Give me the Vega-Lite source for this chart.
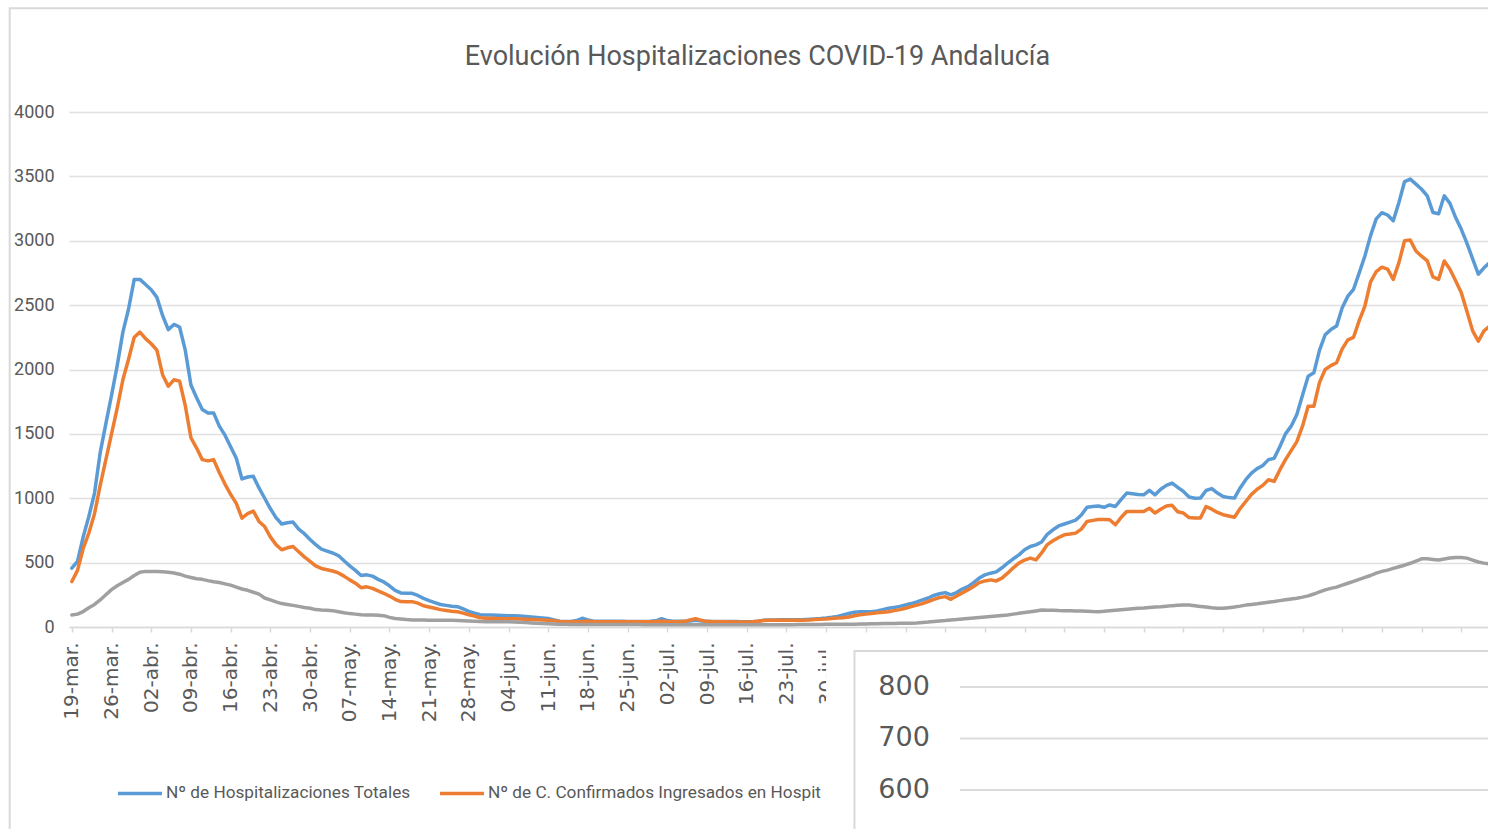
{
  "$schema": "https://vega.github.io/schema/vega-lite/v6.json",
  "autosize": {"type": "none"},
  "width": 1419,
  "height": 515,
  "padding": {"left": 69, "top": 112, "right": 0, "bottom": 202},
  "background": "white",
  "title": {"text": "Evolución Hospitalizaciones COVID-19 Andalucía", "font": "Roboto", "fontSize": 27, "fontWeight": "normal", "color": "#595959", "offset": -64, "dx": -21, "anchor": "middle", "frame": "group"},
  "config": {"view": {"stroke": null}, "style": {"guide-label": {"ellipsis": "\u200b"}}},
  "datasets": {
    "series": [
      {"k": "T", "name": "Nº de Hospitalizaciones Totales"},
      {"k": "C", "name": "Nº de C. Confirmados Ingresados en Hospitalización"},
      {"k": "U", "name": "Nº de C. Confirmados Ingresados en UCI"}
    ],
    "inset": [{"v": 800}, {"v": 700}, {"v": 600}],
    "hosp": [
      {"d":"2020-03-19","T":457,"C":353,"U":93},
      {"d":"2020-03-20","T":510,"C":440,"U":100},
      {"d":"2020-03-21","T":700,"C":610,"U":120},
      {"d":"2020-03-22","T":858,"C":730,"U":150},
      {"d":"2020-03-23","T":1040,"C":880,"U":175},
      {"d":"2020-03-24","T":1354,"C":1100,"U":210},
      {"d":"2020-03-25","T":1580,"C":1300,"U":250},
      {"d":"2020-03-26","T":1800,"C":1500,"U":290},
      {"d":"2020-03-27","T":2030,"C":1700,"U":320},
      {"d":"2020-03-28","T":2290,"C":1920,"U":345},
      {"d":"2020-03-29","T":2470,"C":2080,"U":370},
      {"d":"2020-03-30","T":2700,"C":2250,"U":400},
      {"d":"2020-03-31","T":2700,"C":2290,"U":425},
      {"d":"2020-04-01","T":2660,"C":2240,"U":432},
      {"d":"2020-04-02","T":2620,"C":2200,"U":432},
      {"d":"2020-04-03","T":2560,"C":2150,"U":432},
      {"d":"2020-04-04","T":2420,"C":1960,"U":430},
      {"d":"2020-04-05","T":2310,"C":1870,"U":425},
      {"d":"2020-04-06","T":2350,"C":1920,"U":420},
      {"d":"2020-04-07","T":2330,"C":1910,"U":410},
      {"d":"2020-04-08","T":2150,"C":1720,"U":395},
      {"d":"2020-04-09","T":1880,"C":1470,"U":385},
      {"d":"2020-04-10","T":1780,"C":1390,"U":375},
      {"d":"2020-04-11","T":1690,"C":1300,"U":370},
      {"d":"2020-04-12","T":1663,"C":1290,"U":360},
      {"d":"2020-04-13","T":1663,"C":1300,"U":352},
      {"d":"2020-04-14","T":1560,"C":1200,"U":345},
      {"d":"2020-04-15","T":1490,"C":1110,"U":335},
      {"d":"2020-04-16","T":1400,"C":1030,"U":325},
      {"d":"2020-04-17","T":1310,"C":960,"U":310},
      {"d":"2020-04-18","T":1150,"C":846,"U":295},
      {"d":"2020-04-19","T":1165,"C":880,"U":285},
      {"d":"2020-04-20","T":1170,"C":900,"U":270},
      {"d":"2020-04-21","T":1080,"C":820,"U":255},
      {"d":"2020-04-22","T":1000,"C":780,"U":225},
      {"d":"2020-04-23","T":920,"C":700,"U":210},
      {"d":"2020-04-24","T":850,"C":640,"U":195},
      {"d":"2020-04-25","T":800,"C":600,"U":182},
      {"d":"2020-04-26","T":810,"C":615,"U":175},
      {"d":"2020-04-27","T":815,"C":625,"U":168},
      {"d":"2020-04-28","T":760,"C":585,"U":160},
      {"d":"2020-04-29","T":725,"C":545,"U":152},
      {"d":"2020-04-30","T":680,"C":510,"U":145},
      {"d":"2020-05-01","T":640,"C":475,"U":135},
      {"d":"2020-05-02","T":605,"C":455,"U":132},
      {"d":"2020-05-03","T":590,"C":445,"U":130},
      {"d":"2020-05-04","T":575,"C":435,"U":127},
      {"d":"2020-05-05","T":555,"C":420,"U":118},
      {"d":"2020-05-06","T":515,"C":395,"U":110},
      {"d":"2020-05-07","T":475,"C":366,"U":104},
      {"d":"2020-05-08","T":440,"C":340,"U":100},
      {"d":"2020-05-09","T":400,"C":305,"U":96},
      {"d":"2020-05-10","T":405,"C":312,"U":93},
      {"d":"2020-05-11","T":395,"C":300,"U":93},
      {"d":"2020-05-12","T":370,"C":280,"U":92},
      {"d":"2020-05-13","T":350,"C":262,"U":88},
      {"d":"2020-05-14","T":320,"C":240,"U":75},
      {"d":"2020-05-15","T":285,"C":215,"U":66},
      {"d":"2020-05-16","T":265,"C":198,"U":62},
      {"d":"2020-05-17","T":262,"C":197,"U":58},
      {"d":"2020-05-18","T":262,"C":197,"U":55},
      {"d":"2020-05-19","T":245,"C":185,"U":54},
      {"d":"2020-05-20","T":222,"C":165,"U":54},
      {"d":"2020-05-21","T":205,"C":155,"U":53},
      {"d":"2020-05-22","T":190,"C":145,"U":53},
      {"d":"2020-05-23","T":175,"C":135,"U":52},
      {"d":"2020-05-24","T":168,"C":128,"U":52},
      {"d":"2020-05-25","T":162,"C":122,"U":52},
      {"d":"2020-05-26","T":158,"C":119,"U":50},
      {"d":"2020-05-27","T":140,"C":108,"U":48},
      {"d":"2020-05-28","T":122,"C":95,"U":46},
      {"d":"2020-05-29","T":108,"C":85,"U":44},
      {"d":"2020-05-30","T":95,"C":72,"U":42},
      {"d":"2020-05-31","T":93,"C":68,"U":41},
      {"d":"2020-06-01","T":93,"C":68,"U":40},
      {"d":"2020-06-02","T":92,"C":66,"U":40},
      {"d":"2020-06-03","T":90,"C":65,"U":40},
      {"d":"2020-06-04","T":88,"C":64,"U":40},
      {"d":"2020-06-05","T":88,"C":64,"U":38},
      {"d":"2020-06-06","T":85,"C":62,"U":36},
      {"d":"2020-06-07","T":82,"C":60,"U":34},
      {"d":"2020-06-08","T":78,"C":58,"U":32},
      {"d":"2020-06-09","T":74,"C":56,"U":30},
      {"d":"2020-06-10","T":70,"C":54,"U":28},
      {"d":"2020-06-11","T":66,"C":52,"U":26},
      {"d":"2020-06-12","T":55,"C":48,"U":24},
      {"d":"2020-06-13","T":45,"C":42,"U":22},
      {"d":"2020-06-14","T":42,"C":40,"U":21},
      {"d":"2020-06-15","T":42,"C":40,"U":20},
      {"d":"2020-06-16","T":50,"C":40,"U":20},
      {"d":"2020-06-17","T":68,"C":42,"U":20},
      {"d":"2020-06-18","T":55,"C":45,"U":20},
      {"d":"2020-06-19","T":45,"C":42,"U":20},
      {"d":"2020-06-20","T":44,"C":40,"U":20},
      {"d":"2020-06-21","T":44,"C":40,"U":20},
      {"d":"2020-06-22","T":44,"C":40,"U":20},
      {"d":"2020-06-23","T":44,"C":40,"U":20},
      {"d":"2020-06-24","T":44,"C":40,"U":20},
      {"d":"2020-06-25","T":43,"C":40,"U":20},
      {"d":"2020-06-26","T":43,"C":40,"U":20},
      {"d":"2020-06-27","T":43,"C":40,"U":20},
      {"d":"2020-06-28","T":43,"C":40,"U":18},
      {"d":"2020-06-29","T":44,"C":40,"U":18},
      {"d":"2020-06-30","T":48,"C":42,"U":18},
      {"d":"2020-07-01","T":65,"C":45,"U":18},
      {"d":"2020-07-02","T":50,"C":42,"U":18},
      {"d":"2020-07-03","T":45,"C":40,"U":18},
      {"d":"2020-07-04","T":45,"C":40,"U":18},
      {"d":"2020-07-05","T":45,"C":42,"U":18},
      {"d":"2020-07-06","T":46,"C":55,"U":18},
      {"d":"2020-07-07","T":52,"C":65,"U":18},
      {"d":"2020-07-08","T":46,"C":52,"U":18},
      {"d":"2020-07-09","T":45,"C":42,"U":18},
      {"d":"2020-07-10","T":43,"C":40,"U":18},
      {"d":"2020-07-11","T":42,"C":40,"U":18},
      {"d":"2020-07-12","T":42,"C":40,"U":18},
      {"d":"2020-07-13","T":42,"C":40,"U":18},
      {"d":"2020-07-14","T":42,"C":38,"U":18},
      {"d":"2020-07-15","T":41,"C":38,"U":18},
      {"d":"2020-07-16","T":40,"C":38,"U":18},
      {"d":"2020-07-17","T":40,"C":40,"U":18},
      {"d":"2020-07-18","T":45,"C":45,"U":18},
      {"d":"2020-07-19","T":52,"C":50,"U":18},
      {"d":"2020-07-20","T":55,"C":52,"U":18},
      {"d":"2020-07-21","T":55,"C":52,"U":18},
      {"d":"2020-07-22","T":56,"C":52,"U":18},
      {"d":"2020-07-23","T":56,"C":52,"U":18},
      {"d":"2020-07-24","T":56,"C":52,"U":18},
      {"d":"2020-07-25","T":57,"C":52,"U":19},
      {"d":"2020-07-26","T":58,"C":53,"U":19},
      {"d":"2020-07-27","T":60,"C":55,"U":20},
      {"d":"2020-07-28","T":63,"C":58,"U":20},
      {"d":"2020-07-29","T":66,"C":60,"U":20},
      {"d":"2020-07-30","T":70,"C":62,"U":21},
      {"d":"2020-07-31","T":75,"C":66,"U":21},
      {"d":"2020-08-01","T":82,"C":70,"U":21},
      {"d":"2020-08-02","T":93,"C":72,"U":21},
      {"d":"2020-08-03","T":105,"C":78,"U":22},
      {"d":"2020-08-04","T":115,"C":88,"U":22},
      {"d":"2020-08-05","T":119,"C":95,"U":23},
      {"d":"2020-08-06","T":119,"C":100,"U":24},
      {"d":"2020-08-07","T":119,"C":105,"U":25},
      {"d":"2020-08-08","T":125,"C":110,"U":26},
      {"d":"2020-08-09","T":135,"C":115,"U":27},
      {"d":"2020-08-10","T":145,"C":119,"U":28},
      {"d":"2020-08-11","T":152,"C":127,"U":28},
      {"d":"2020-08-12","T":160,"C":135,"U":29},
      {"d":"2020-08-13","T":171,"C":145,"U":29},
      {"d":"2020-08-14","T":182,"C":158,"U":30},
      {"d":"2020-08-15","T":195,"C":170,"U":32},
      {"d":"2020-08-16","T":210,"C":182,"U":35},
      {"d":"2020-08-17","T":225,"C":198,"U":38},
      {"d":"2020-08-18","T":245,"C":215,"U":42},
      {"d":"2020-08-19","T":258,"C":228,"U":46},
      {"d":"2020-08-20","T":267,"C":236,"U":50},
      {"d":"2020-08-21","T":249,"C":215,"U":55},
      {"d":"2020-08-22","T":268,"C":240,"U":58},
      {"d":"2020-08-23","T":295,"C":265,"U":62},
      {"d":"2020-08-24","T":314,"C":288,"U":66},
      {"d":"2020-08-25","T":345,"C":315,"U":70},
      {"d":"2020-08-26","T":380,"C":345,"U":74},
      {"d":"2020-08-27","T":405,"C":358,"U":78},
      {"d":"2020-08-28","T":418,"C":366,"U":82},
      {"d":"2020-08-29","T":428,"C":358,"U":86},
      {"d":"2020-08-30","T":460,"C":380,"U":90},
      {"d":"2020-08-31","T":496,"C":418,"U":94},
      {"d":"2020-09-01","T":530,"C":460,"U":100},
      {"d":"2020-09-02","T":560,"C":496,"U":106},
      {"d":"2020-09-03","T":600,"C":520,"U":112},
      {"d":"2020-09-04","T":625,"C":535,"U":118},
      {"d":"2020-09-05","T":638,"C":521,"U":125},
      {"d":"2020-09-06","T":660,"C":575,"U":132},
      {"d":"2020-09-07","T":720,"C":640,"U":131},
      {"d":"2020-09-08","T":755,"C":670,"U":130},
      {"d":"2020-09-09","T":785,"C":695,"U":128},
      {"d":"2020-09-10","T":800,"C":716,"U":127},
      {"d":"2020-09-11","T":815,"C":722,"U":126},
      {"d":"2020-09-12","T":830,"C":729,"U":125},
      {"d":"2020-09-13","T":870,"C":760,"U":124},
      {"d":"2020-09-14","T":930,"C":820,"U":122},
      {"d":"2020-09-15","T":936,"C":828,"U":120},
      {"d":"2020-09-16","T":940,"C":835,"U":119},
      {"d":"2020-09-17","T":930,"C":835,"U":122},
      {"d":"2020-09-18","T":948,"C":833,"U":126},
      {"d":"2020-09-19","T":936,"C":794,"U":130},
      {"d":"2020-09-20","T":990,"C":850,"U":134},
      {"d":"2020-09-21","T":1040,"C":897,"U":138},
      {"d":"2020-09-22","T":1035,"C":897,"U":142},
      {"d":"2020-09-23","T":1030,"C":897,"U":145},
      {"d":"2020-09-24","T":1027,"C":897,"U":148},
      {"d":"2020-09-25","T":1061,"C":923,"U":152},
      {"d":"2020-09-26","T":1027,"C":885,"U":155},
      {"d":"2020-09-27","T":1070,"C":915,"U":158},
      {"d":"2020-09-28","T":1100,"C":940,"U":162},
      {"d":"2020-09-29","T":1118,"C":945,"U":166},
      {"d":"2020-09-30","T":1085,"C":895,"U":168},
      {"d":"2020-10-01","T":1053,"C":885,"U":170},
      {"d":"2020-10-02","T":1010,"C":850,"U":170},
      {"d":"2020-10-03","T":1000,"C":846,"U":165},
      {"d":"2020-10-04","T":1001,"C":846,"U":160},
      {"d":"2020-10-05","T":1060,"C":936,"U":155},
      {"d":"2020-10-06","T":1075,"C":915,"U":150},
      {"d":"2020-10-07","T":1040,"C":890,"U":146},
      {"d":"2020-10-08","T":1014,"C":872,"U":145},
      {"d":"2020-10-09","T":1005,"C":862,"U":150},
      {"d":"2020-10-10","T":1001,"C":853,"U":155},
      {"d":"2020-10-11","T":1080,"C":920,"U":162},
      {"d":"2020-10-12","T":1144,"C":975,"U":170},
      {"d":"2020-10-13","T":1195,"C":1030,"U":175},
      {"d":"2020-10-14","T":1230,"C":1070,"U":180},
      {"d":"2020-10-15","T":1255,"C":1100,"U":186},
      {"d":"2020-10-16","T":1300,"C":1144,"U":192},
      {"d":"2020-10-17","T":1310,"C":1131,"U":198},
      {"d":"2020-10-18","T":1400,"C":1220,"U":205},
      {"d":"2020-10-19","T":1500,"C":1300,"U":212},
      {"d":"2020-10-20","T":1560,"C":1370,"U":218},
      {"d":"2020-10-21","T":1650,"C":1440,"U":224},
      {"d":"2020-10-22","T":1800,"C":1560,"U":232},
      {"d":"2020-10-23","T":1948,"C":1714,"U":242},
      {"d":"2020-10-24","T":1974,"C":1714,"U":256},
      {"d":"2020-10-25","T":2150,"C":1900,"U":272},
      {"d":"2020-10-26","T":2270,"C":2000,"U":288},
      {"d":"2020-10-27","T":2310,"C":2030,"U":300},
      {"d":"2020-10-28","T":2337,"C":2052,"U":310},
      {"d":"2020-10-29","T":2480,"C":2160,"U":325},
      {"d":"2020-10-30","T":2570,"C":2230,"U":340},
      {"d":"2020-10-31","T":2623,"C":2250,"U":355},
      {"d":"2020-11-01","T":2750,"C":2380,"U":370},
      {"d":"2020-11-02","T":2882,"C":2493,"U":385},
      {"d":"2020-11-03","T":3040,"C":2680,"U":400},
      {"d":"2020-11-04","T":3170,"C":2760,"U":418},
      {"d":"2020-11-05","T":3218,"C":2795,"U":432},
      {"d":"2020-11-06","T":3200,"C":2780,"U":442},
      {"d":"2020-11-07","T":3155,"C":2700,"U":455},
      {"d":"2020-11-08","T":3297,"C":2830,"U":468},
      {"d":"2020-11-09","T":3460,"C":3000,"U":480},
      {"d":"2020-11-10","T":3479,"C":3005,"U":495},
      {"d":"2020-11-11","T":3440,"C":2920,"U":512},
      {"d":"2020-11-12","T":3400,"C":2880,"U":530},
      {"d":"2020-11-13","T":3349,"C":2843,"U":530},
      {"d":"2020-11-14","T":3220,"C":2720,"U":525},
      {"d":"2020-11-15","T":3210,"C":2700,"U":520},
      {"d":"2020-11-16","T":3349,"C":2843,"U":528},
      {"d":"2020-11-17","T":3290,"C":2778,"U":536},
      {"d":"2020-11-18","T":3180,"C":2690,"U":540},
      {"d":"2020-11-19","T":3089,"C":2597,"U":540},
      {"d":"2020-11-20","T":2980,"C":2450,"U":535},
      {"d":"2020-11-21","T":2860,"C":2300,"U":520},
      {"d":"2020-11-22","T":2740,"C":2220,"U":505},
      {"d":"2020-11-23","T":2790,"C":2300,"U":496},
      {"d":"2020-11-24","T":2830,"C":2337,"U":490}
    ]
  },
  "layer": [
    {
      "data": {"name": "hosp"},
      "transform": [
        {"fold": ["T", "C", "U"], "as": ["k", "v"]},
        {"lookup": "k", "from": {"data": {"name": "series"}, "key": "k", "fields": ["name"]}}
      ],
      "mark": {"type": "line", "strokeWidth": 3.5, "strokeJoin": "round", "strokeCap": "round"},
      "encoding": {
        "x": {
          "field": "d", "type": "temporal",
          "scale": {"domain": [{"year": 2020, "month": 3, "date": 18, "hours": 12, "utc": true}, {"year": 2020, "month": 11, "date": 23, "hours": 17, "utc": true}]},
          "axis": {
            "title": null, "grid": false,
            "values": [
              {"year": 2020, "month": 3, "date": 19, "utc": true}, {"year": 2020, "month": 3, "date": 26, "utc": true},
              {"year": 2020, "month": 4, "date": 2, "utc": true}, {"year": 2020, "month": 4, "date": 9, "utc": true},
              {"year": 2020, "month": 4, "date": 16, "utc": true}, {"year": 2020, "month": 4, "date": 23, "utc": true},
              {"year": 2020, "month": 4, "date": 30, "utc": true}, {"year": 2020, "month": 5, "date": 7, "utc": true},
              {"year": 2020, "month": 5, "date": 14, "utc": true}, {"year": 2020, "month": 5, "date": 21, "utc": true},
              {"year": 2020, "month": 5, "date": 28, "utc": true}, {"year": 2020, "month": 6, "date": 4, "utc": true},
              {"year": 2020, "month": 6, "date": 11, "utc": true}, {"year": 2020, "month": 6, "date": 18, "utc": true},
              {"year": 2020, "month": 6, "date": 25, "utc": true}, {"year": 2020, "month": 7, "date": 2, "utc": true},
              {"year": 2020, "month": 7, "date": 9, "utc": true}, {"year": 2020, "month": 7, "date": 16, "utc": true},
              {"year": 2020, "month": 7, "date": 23, "utc": true}, {"year": 2020, "month": 7, "date": 30, "utc": true},
              {"year": 2020, "month": 8, "date": 6, "utc": true}, {"year": 2020, "month": 8, "date": 13, "utc": true},
              {"year": 2020, "month": 8, "date": 20, "utc": true}, {"year": 2020, "month": 8, "date": 27, "utc": true},
              {"year": 2020, "month": 9, "date": 3, "utc": true}, {"year": 2020, "month": 9, "date": 10, "utc": true},
              {"year": 2020, "month": 9, "date": 17, "utc": true}, {"year": 2020, "month": 9, "date": 24, "utc": true},
              {"year": 2020, "month": 10, "date": 1, "utc": true}, {"year": 2020, "month": 10, "date": 8, "utc": true},
              {"year": 2020, "month": 10, "date": 15, "utc": true}, {"year": 2020, "month": 10, "date": 22, "utc": true},
              {"year": 2020, "month": 10, "date": 29, "utc": true}, {"year": 2020, "month": 11, "date": 5, "utc": true},
              {"year": 2020, "month": 11, "date": 12, "utc": true}, {"year": 2020, "month": 11, "date": 19, "utc": true}
            ],
            "labelExpr": "utcFormat(datum.value, '%d') + '-' + ['ene','feb','mar','abr','may','jun','jul','ago','sept','oct','nov','dic'][utcmonth(datum.value)] + '.'",
            "labelAngle": 270, "labelFont": "DejaVu Sans", "labelFontSize": 20, "labelColor": "#595959",
            "labelPadding": 10, "labelOverlap": false, "labelFlush": false,
            "tickSize": 5, "tickColor": "#d9d9d9", "tickWidth": 1.5,
            "domainColor": "#d9d9d9", "domainWidth": 1.5
          }
        },
        "y": {
          "field": "v", "type": "quantitative",
          "scale": {"domain": [0, 4000], "nice": false},
          "axis": {
            "title": null, "values": [0, 500, 1000, 1500, 2000, 2500, 3000, 3500, 4000], "format": "d",
            "domain": false, "ticks": false, "grid": true, "gridColor": "#e0e0e0", "gridWidth": 1.5,
            "labelFont": "Roboto", "labelFontSize": 18, "labelColor": "#595959", "labelPadding": 15
          }
        },
        "color": {
          "field": "name", "type": "nominal",
          "scale": {"domain": ["Nº de Hospitalizaciones Totales", "Nº de C. Confirmados Ingresados en Hospitalización", "Nº de C. Confirmados Ingresados en UCI"], "range": ["#5B9BD5", "#ED7D31", "#A0A0A0"]},
          "legend": {
            "orient": "none", "legendX": 47, "legendY": 657, "direction": "horizontal",
            "values": ["Nº de Hospitalizaciones Totales", "Nº de C. Confirmados Ingresados en Hospitalización"],
            "title": null, "symbolType": "stroke", "symbolSize": 1936, "symbolStrokeWidth": 3.5,
            "labelFont": "Roboto", "labelFontSize": 17.2, "labelColor": "#595959",
            "labelLimit": 339, "labelOffset": 2, "columnPadding": 22, "padding": 0,
            "encode": {"labels": {"enter": {"ellipsis": {"value": "\u200b"}}, "update": {"ellipsis": {"value": "\u200b"}}}}
          }
        }
      }
    },
    {
      "layer": [
        {
          "data": {"values": [{"panel": "frame"}]},
          "mark": {"type": "rect", "fill": null, "stroke": "#d9d9d9", "strokeWidth": 2},
          "encoding": {
            "x": {"datum": {"year": 2020, "month": 3, "date": 8, "hours": 1, "utc": true}, "type": "temporal"},
            "x2": {"datum": {"year": 2021, "month": 3, "date": 1, "utc": true}},
            "y": {"datum": 2118, "type": "quantitative", "scale": {"domain": [916.5, 1916.5], "nice": false, "zero": false}, "axis": null},
            "y2": {"datum": 200}
          }
        },
        {
          "data": {"values": [{"panel": "inset"}]},
          "mark": {"type": "rect", "fill": "white", "stroke": null},
          "encoding": {
            "x": {"datum": {"year": 2020, "month": 7, "date": 30, "utc": true}, "type": "temporal"},
            "x2": {"datum": {"year": 2021, "month": 3, "date": 1, "utc": true}},
            "y": {"datum": 897, "type": "quantitative", "axis": null},
            "y2": {"datum": 200}
          }
        },
        {
          "data": {"values": [{"panel": "inset"}]},
          "mark": {"type": "rect", "fill": "white", "stroke": "#d9d9d9", "strokeWidth": 2},
          "encoding": {
            "x": {"datum": {"year": 2020, "month": 8, "date": 4, "utc": true}, "type": "temporal"},
            "x2": {"datum": {"year": 2021, "month": 3, "date": 1, "utc": true}},
            "y": {"datum": 870, "type": "quantitative", "axis": null},
            "y2": {"datum": 200}
          }
        },
        {
          "data": {"name": "inset"},
          "mark": {"type": "rule", "color": "#dcdcdc", "strokeWidth": 2},
          "encoding": {
            "x": {"datum": {"year": 2020, "month": 8, "date": 22, "hours": 14, "utc": true}, "type": "temporal"},
            "x2": {"datum": {"year": 2021, "month": 3, "date": 1, "utc": true}},
            "y": {"field": "v", "type": "quantitative", "axis": null}
          }
        },
        {
          "data": {"name": "inset"},
          "mark": {"type": "text", "align": "right", "baseline": "middle", "font": "DejaVu Sans", "fontSize": 27, "color": "#595959"},
          "encoding": {
            "x": {"datum": {"year": 2020, "month": 8, "date": 17, "hours": 7, "utc": true}, "type": "temporal"},
            "y": {"field": "v", "type": "quantitative", "axis": null},
            "text": {"field": "v", "type": "quantitative"}
          }
        }
      ]
    }
  ],
  "resolve": {"scale": {"y": "independent"}}
}
